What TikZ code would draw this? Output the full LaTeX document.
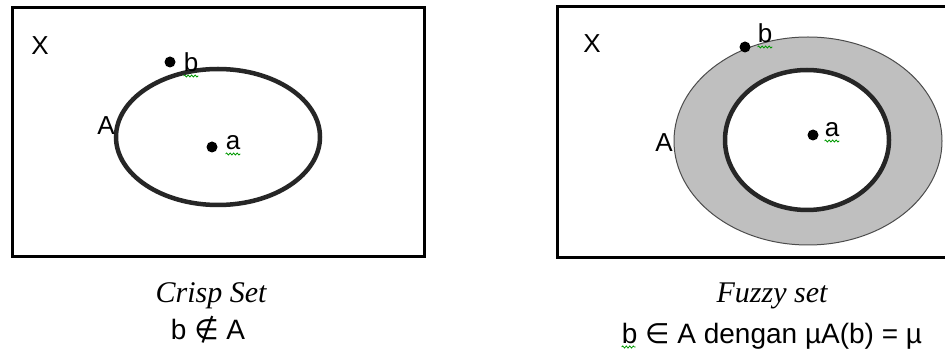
\documentclass[tikz,border=0pt]{standalone}
\usepackage{fontspec}
\setmainfont{Liberation Sans}
\newfontfamily\capfont{Liberation Serif}
\newfontfamily\symfont{DejaVu Sans}
\usetikzlibrary{positioning,decorations.pathmorphing}

\begin{document}
\begin{tikzpicture}[
    x=1pt, y=-1pt,
    setbox/.style={draw, line width=3pt},
    setline/.style={draw=black!85, line width=4.5pt},
    dotpt/.style={circle, fill=black, inner sep=0pt, minimum size=11pt},
    lbl/.style={inner sep=0pt, anchor=base, font=\fontsize{26}{30}\selectfont},
    capline/.style={inner sep=0pt, anchor=base, font=\fontsize{30}{34}\selectfont\capfont\itshape},
    memline/.style={inner sep=0pt, anchor=base, font=\fontsize{28}{32}\selectfont},
    squig/.style={draw=green!60!black, line width=0.8pt,
        decorate, decoration={snake, amplitude=1pt, segment length=3.5pt}}
]
    \clip (0,0) rectangle (945,352);
    \fill[white] (0,0) rectangle (945,352);

    % Crisp set
    \draw[setbox] (12,8) rectangle (424,257);
    \draw[setline] (218,137) ellipse [x radius=102, y radius=68];
    \node[lbl] (crispx) at (40,55) {X};
    \node[lbl] (crispA) at (106,135) {A};
    \node[dotpt] (crispdotb) at (170,62) {};
    \node[lbl] (crispb) at (191,72) {b};
    \node[dotpt] (crispdota) at (212,147) {};
    \node[lbl] (crispa) at (233,150) {a};
    \draw[squig] ([yshift=-4pt]crispb.base west) -- ([yshift=-4pt]crispb.base east);
    \draw[squig] ([yshift=-4pt]crispa.base west) -- ([yshift=-4pt]crispa.base east);

    % Fuzzy set
    \draw[setbox] (557,7) rectangle (975,258);
    \draw[fill=black!25, draw=black!70, line width=1pt] (808,141) ellipse [x radius=134, y radius=104];
    \draw[setline, fill=white] (807,140) ellipse [x radius=82, y radius=70];
    \node[lbl] (fuzzyx) at (592,53) {X};
    \node[lbl] (fuzzyA) at (664,152) {A};
    \node[dotpt] (fuzzydotb) at (745,47) {};
    \node[lbl] (fuzzyb) at (765,43) {b};
    \node[dotpt] (fuzzydota) at (813,135) {};
    \node[lbl] (fuzzya) at (832,137) {a};
    \draw[squig] ([yshift=-4pt]fuzzyb.base west) -- ([yshift=-4pt]fuzzyb.base east);
    \draw[squig] ([yshift=-4pt]fuzzya.base west) -- ([yshift=-4pt]fuzzya.base east);

    % captions
    \node[capline] (crispcap) at (211,303) {Crisp Set};
    \node[memline] (crispmem) at (208,340) {b {\symfont ∉} A};
    \node[capline] (fuzzycap) at (772,303) {Fuzzy set};
    \node[memline] (fuzzymem) at (772,344) {b {\symfont ∈} A dengan µA(b) = µ};
    \draw[squig] ([yshift=-3pt]fuzzymem.base west) -- ++(14,0);
\end{tikzpicture}
\end{document}
